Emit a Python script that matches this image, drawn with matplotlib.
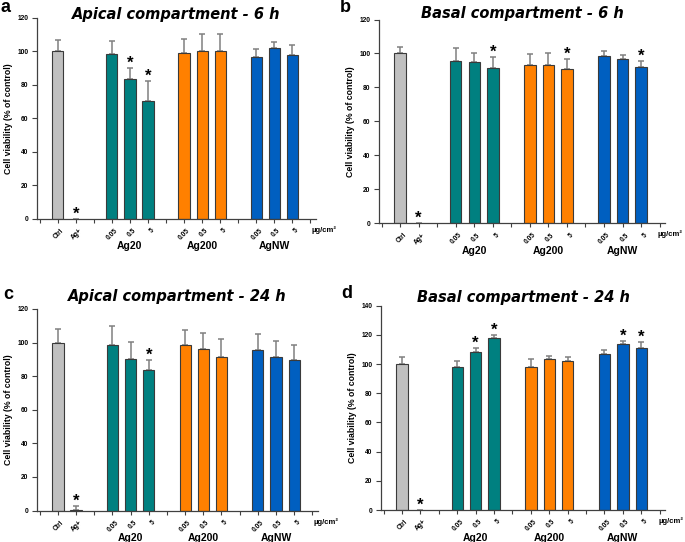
import numpy as np
import matplotlib
matplotlib.use("Agg")
import matplotlib.pyplot as plt
import matplotlib.transforms as mtransforms

# Daten
tick_labels = ["Ctrl", "Ag+", "0.05", "0.5", "5", "0.05", "0.5", "5", "0.05", "0.5", "5"]
groups = ["Ag20", "Ag200", "AgNW"]
colors = ["#c0c0c0", "#c0c0c0",
          "#008080", "#008080", "#008080",
          "#ff8000", "#ff8000", "#ff8000",
          "#005fc0", "#005fc0", "#005fc0"]

apical_6h = [100, 0, 98.4, 83.8, 70.2, 99.0, 100.4, 100.4, 96.8, 101.8, 97.6]
apical_6h_err = [6.7, 0, 7.7, 6.5, 12.2, 8.3, 10.1, 10.1, 4.6, 3.7, 6.3]
apical_6h_sig = [1, 3, 4]

basal_6h = [100, 0, 95.3, 94.7, 91.6, 93.1, 93.3, 90.6, 98.6, 96.9, 92.2]
basal_6h_err = [4.1, 0, 8.0, 5.3, 6.6, 6.3, 7.1, 5.9, 3.0, 2.3, 3.5]
basal_6h_sig = [1, 4, 7, 10]

apical_24h = [100, 0.5, 98.8, 90.5, 83.8, 98.8, 96.4, 91.3, 95.4, 91.3, 89.7]
apical_24h_err = [8.1, 2.0, 11.3, 9.9, 6.1, 8.7, 9.3, 11.1, 9.5, 9.9, 8.9]
apical_24h_sig = [1, 4]

basal_24h = [100, 0, 97.9, 108.0, 118.2, 97.7, 103.2, 102.1, 106.9, 113.8, 110.8]
basal_24h_err = [4.6, 0, 4.4, 2.8, 1.6, 5.7, 2.1, 2.5, 2.5, 1.8, 4.4]
basal_24h_sig = [1, 3, 4, 9, 10]

positions = [0, 1, 3, 4, 5, 7, 8, 9, 11, 12, 13]
group_centers = [4, 8, 12]
boundaries = [-1, 2, 6, 10, 14]

LABEL_FONT = ["Liberation Sans", "DejaVu Sans"]


def draw_panel(fig, rect, letter, letter_pos, title, title_y, unit_x,
               values, errs, sig, ymax):
    ax = fig.add_axes(rect)
    edges = ["#3a3a3a" if v > 0 else "none" for v in values]
    ax.bar(positions, values, width=0.62, color=colors,
           edgecolor=edges, linewidth=0.8, zorder=2)
    err_plot = [e if e > 0 else np.nan for e in errs]
    ax.errorbar(positions, values, yerr=[np.zeros(len(errs)), err_plot],
                fmt="none", ecolor="#808080", elinewidth=1.1, capsize=2.5,
                capthick=1.1, zorder=1)
    for i in sig:
        top = values[i] + errs[i]
        ax.annotate("*", (positions[i], top), xytext=(0, -2),
                    textcoords="offset points", ha="center", va="bottom",
                    fontsize=12, fontweight="bold", family=LABEL_FONT)

    ax.set_xlim(-1.15, 14.3)
    ax.set_ylim(0, ymax)
    ax.set_yticks(np.arange(0, ymax + 1, 20))
    ax.set_xticks(sorted(positions + boundaries))
    ax.set_xticklabels([])
    ax.tick_params(axis="y", direction="out", length=3.5, width=0.8, pad=2.5,
                   labelsize=4.8, colors="#404040", labelcolor="black")
    ax.tick_params(axis="x", direction="out", length=3, width=0.8,
                   colors="#404040")
    for lab in ax.get_yticklabels():
        lab.set_fontweight("bold")
        lab.set_family(LABEL_FONT)
    for s in ["top", "right"]:
        ax.spines[s].set_visible(False)
    for s in ["left", "bottom"]:
        ax.spines[s].set_color("#404040")
        ax.spines[s].set_linewidth(0.9)

    trans = mtransforms.blended_transform_factory(ax.transData, ax.transAxes)
    offset = mtransforms.ScaledTranslation(0, -6 / 72, fig.dpi_scale_trans)
    for p, lab in zip(positions, tick_labels):
        ax.text(p + 0.15, 0, lab, transform=trans + offset, rotation=45,
                ha="right", va="top", rotation_mode="anchor",
                fontsize=4.8, fontweight="bold", family=LABEL_FONT)
    for c, g in zip(group_centers, groups):
        ax.text(c, -0.135, g, transform=trans, ha="center", va="center",
                fontsize=7.5, fontweight="bold", family=LABEL_FONT)
    ax.text(unit_x, -0.055, "µg/cm²", transform=ax.transAxes, ha="left",
            va="center", fontsize=5.5, fontweight="bold", family=LABEL_FONT)

    ax.set_ylabel("Cell viability (% of control)", fontsize=6.3,
                  fontweight="bold", family=LABEL_FONT, labelpad=3)
    ax.text(0.5, title_y, title, transform=ax.transAxes, ha="center",
            va="center", fontsize=10.5, fontweight="bold", style="italic",
            family="DejaVu Sans")
    ax.text(letter_pos[0], letter_pos[1], letter, transform=ax.transAxes,
            fontsize=13, fontweight="bold", family=LABEL_FONT,
            ha="left", va="center")
    return ax


fig = plt.figure(figsize=(6.85, 5.42), dpi=100)
draw_panel(fig, [0.054, 0.596, 0.407, 0.371], "a", (-0.13, 1.05),
           "Apical compartment - 6 h", 1.015, 0.985,
           apical_6h, apical_6h_err, apical_6h_sig, 120)
draw_panel(fig, [0.553, 0.588, 0.418, 0.376], "b", (-0.135, 1.06),
           "Basal compartment - 6 h", 1.03, 0.975,
           basal_6h, basal_6h_err, basal_6h_sig, 120)
draw_panel(fig, [0.054, 0.058, 0.410, 0.372], "c", (-0.12, 1.07),
           "Apical compartment - 24 h", 1.06, 0.985,
           apical_24h, apical_24h_err, apical_24h_sig, 120)
draw_panel(fig, [0.556, 0.059, 0.415, 0.377], "d", (-0.14, 1.06),
           "Basal compartment - 24 h", 1.04, 0.975,
           basal_24h, basal_24h_err, basal_24h_sig, 140)

fig.savefig("out.png", dpi=100)
